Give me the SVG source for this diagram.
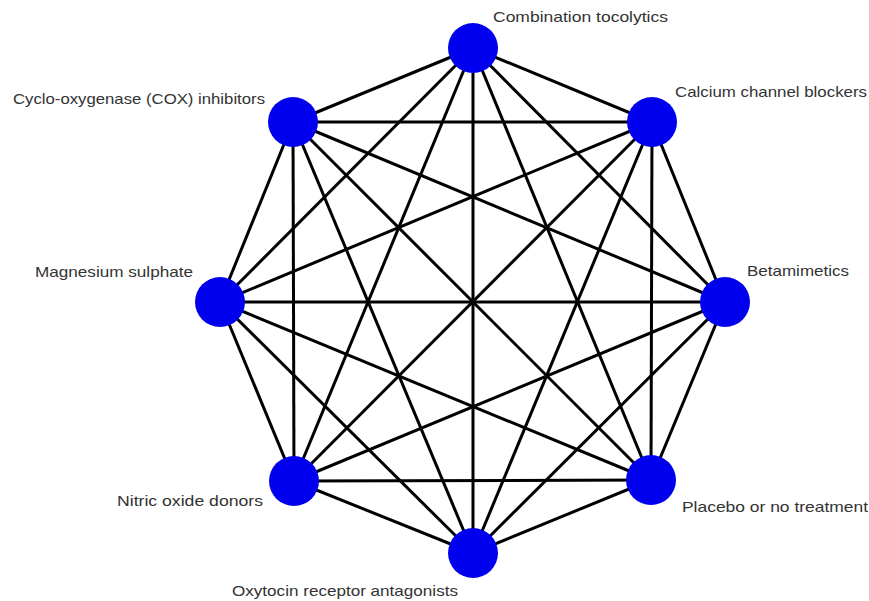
<svg xmlns="http://www.w3.org/2000/svg" width="869" height="601" viewBox="0 0 869 601">
<style>
.e{stroke:#000;stroke-width:3;fill:none}
.n{fill:#0000ee}
.t{font-family:"Liberation Sans",Arial,sans-serif;font-size:15px;fill:#333}
</style>
<rect width="869" height="601" fill="#fff"/>
<g id="connectors">
<line class="e" x1="473" y1="48" x2="652" y2="122"/>
<line class="e" x1="473" y1="48" x2="725" y2="302"/>
<line class="e" x1="473" y1="48" x2="651" y2="480"/>
<line class="e" x1="473" y1="48" x2="473" y2="553"/>
<line class="e" x1="473" y1="48" x2="294" y2="481"/>
<line class="e" x1="473" y1="48" x2="220" y2="302"/>
<line class="e" x1="473" y1="48" x2="293" y2="122"/>
<line class="e" x1="652" y1="122" x2="725" y2="302"/>
<line class="e" x1="652" y1="122" x2="651" y2="480"/>
<line class="e" x1="652" y1="122" x2="473" y2="553"/>
<line class="e" x1="652" y1="122" x2="294" y2="481"/>
<line class="e" x1="652" y1="122" x2="220" y2="302"/>
<line class="e" x1="652" y1="122" x2="293" y2="122"/>
<line class="e" x1="725" y1="302" x2="651" y2="480"/>
<line class="e" x1="725" y1="302" x2="473" y2="553"/>
<line class="e" x1="725" y1="302" x2="294" y2="481"/>
<line class="e" x1="725" y1="302" x2="220" y2="302"/>
<line class="e" x1="725" y1="302" x2="293" y2="122"/>
<line class="e" x1="651" y1="480" x2="473" y2="553"/>
<line class="e" x1="651" y1="480" x2="294" y2="481"/>
<line class="e" x1="651" y1="480" x2="220" y2="302"/>
<line class="e" x1="651" y1="480" x2="293" y2="122"/>
<line class="e" x1="473" y1="553" x2="294" y2="481"/>
<line class="e" x1="473" y1="553" x2="220" y2="302"/>
<line class="e" x1="473" y1="553" x2="293" y2="122"/>
<line class="e" x1="294" y1="481" x2="220" y2="302"/>
<line class="e" x1="294" y1="481" x2="293" y2="122"/>
<line class="e" x1="220" y1="302" x2="293" y2="122"/>
</g>
<g id="node-combination"><circle class="n" cx="473" cy="48" r="25"/><text class="t" x="493" y="22" textLength="175" lengthAdjust="spacingAndGlyphs">Combination tocolytics</text></g>
<g id="node-calcium"><circle class="n" cx="652" cy="122" r="25"/><text class="t" x="675" y="97" textLength="192" lengthAdjust="spacingAndGlyphs">Calcium channel blockers</text></g>
<g id="node-beta"><circle class="n" cx="725" cy="302" r="25"/><text class="t" x="747" y="276" textLength="102" lengthAdjust="spacingAndGlyphs">Betamimetics</text></g>
<g id="node-placebo"><circle class="n" cx="651" cy="480" r="25"/><text class="t" x="682" y="512" textLength="186" lengthAdjust="spacingAndGlyphs">Placebo or no treatment</text></g>
<g id="node-oxytocin"><circle class="n" cx="473" cy="553" r="25"/><text class="t" x="232" y="596" textLength="226" lengthAdjust="spacingAndGlyphs">Oxytocin receptor antagonists</text></g>
<g id="node-nitric"><circle class="n" cx="294" cy="481" r="25"/><text class="t" x="117" y="506" textLength="146" lengthAdjust="spacingAndGlyphs">Nitric oxide donors</text></g>
<g id="node-magnesium"><circle class="n" cx="220" cy="302" r="25"/><text class="t" x="35" y="277" textLength="158" lengthAdjust="spacingAndGlyphs">Magnesium sulphate</text></g>
<g id="node-cox"><circle class="n" cx="293" cy="122" r="25"/><text class="t" x="13" y="104" textLength="252" lengthAdjust="spacingAndGlyphs">Cyclo-oxygenase (COX) inhibitors</text></g>
</svg>
